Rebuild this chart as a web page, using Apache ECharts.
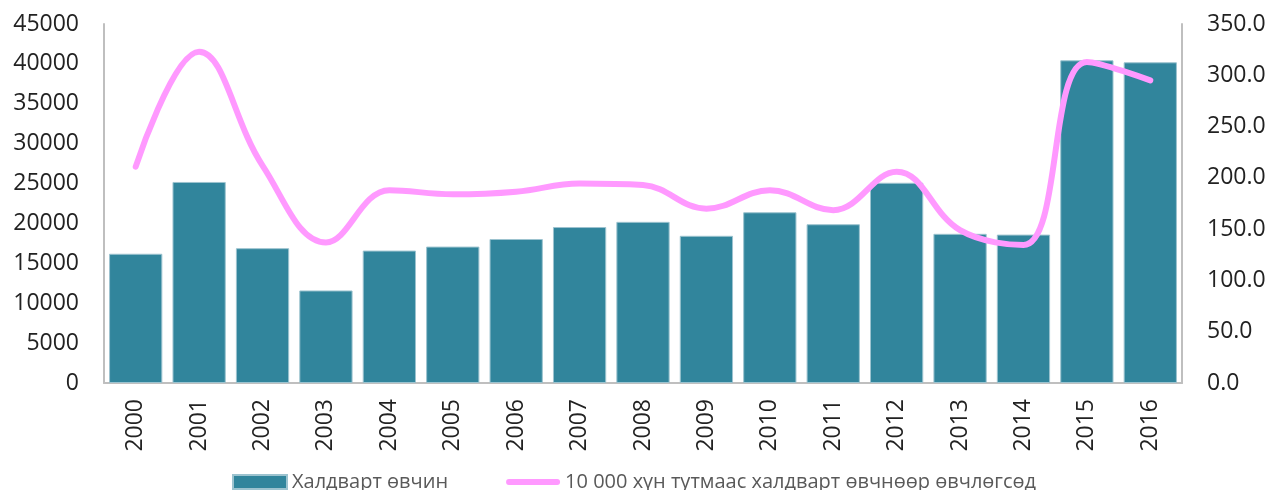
<!DOCTYPE html>
<html>
<head>
<meta charset="utf-8">
<title>Халдварт өвчин</title>
<script src="https://cdn.jsdelivr.net/npm/echarts@6/dist/echarts.min.js"></script>
<style>
html, body { margin: 0; padding: 0; background: #fff; }
#container { width: 1271px; height: 490px; }
</style>
</head>
<body>
<div id="container"></div>
<script type="text/javascript">
// он
var years = ['2000', '2001', '2002', '2003', '2004', '2005', '2006', '2007', '2008',
	'2009', '2010', '2011', '2012', '2013', '2014', '2015', '2016'];
// Халдварт өвчин (тоо)
var cases = [16200, 25200, 16900, 11600, 16600, 17100, 18050, 19550, 20200,
	18450, 21400, 19900, 25100, 18700, 18600, 40450, 40200];
// 10 000 хүн тутмаас
var rate = [211, 323, 212, 137, 188, 184, 186.5, 194.5, 193,
	170, 188, 168.5, 206, 149, 134.5, 313, 295];

var barName = 'Халдварт өвчин';
var lineName = '10 000 хүн тутмаас халдварт өвчнөөр өвчлөгсөд';

var dom = document.getElementById('container');
var myChart = echarts.init(dom);

var axisFont = { fontFamily: 'Open Sans', fontSize: 23, color: '#222' };

var option = {
	animation: false,
	backgroundColor: '#fff',
	grid: { left: 104, right: 89, top: 24, bottom: 107 },
	legend: {
		top: 472,
		left: 232,
		padding: 0,
		itemGap: 58,
		itemWidth: 54,
		itemHeight: 14,
		textStyle: { fontFamily: 'Open Sans', fontSize: 20, color: '#595959' },
		data: [
			{ name: barName, icon: 'rect' },
			{
				name: lineName,
				// тод ягаан зураас
				icon: 'path://M3,0 L53,0 A3,3 0 0 1 53,6 L3,6 A3,3 0 0 1 3,0 Z',
				itemStyle: { color: '#ff99ff', borderWidth: 0 }
			}
		]
	},
	xAxis: {
		type: 'category',
		data: years,
		axisLine: { lineStyle: { color: '#bfbfbf', width: 2 } },
		axisTick: { show: false },
		axisLabel: Object.assign({ rotate: 90, margin: 16, interval: 0 }, axisFont)
	},
	yAxis: [
		{
			type: 'value',
			min: 0, max: 45000, interval: 5000,
			axisLine: { show: true, lineStyle: { color: '#bfbfbf', width: 2 } },
			axisTick: { show: false },
			splitLine: { show: false },
			axisLabel: Object.assign({
				margin: 25,
				formatter: function (v) { return String(v); }
			}, axisFont)
		},
		{
			type: 'value',
			min: 0, max: 350, interval: 50,
			axisLine: { show: true, lineStyle: { color: '#bfbfbf', width: 2 } },
			axisTick: { show: false },
			splitLine: { show: false },
			axisLabel: Object.assign({
				margin: 25,
				formatter: function (v) { return v.toFixed(1); }
			}, axisFont)
		}
	],
	series: [
		{
			name: barName,
			type: 'bar',
			yAxisIndex: 0,
			barCategoryGap: '16%',
			itemStyle: { color: '#31859c', borderColor: '#9cc3cf', borderWidth: 1 },
			data: cases
		},
		{
			name: lineName,
			type: 'line',
			yAxisIndex: 1,
			smooth: 0.4,
			symbol: 'none',
			lineStyle: { color: '#ff99ff', width: 6, cap: 'round' },
			itemStyle: { color: '#ff99ff' },
			data: rate
		}
	]
};
myChart.setOption(option, true);
</script>
</body>
</html>
